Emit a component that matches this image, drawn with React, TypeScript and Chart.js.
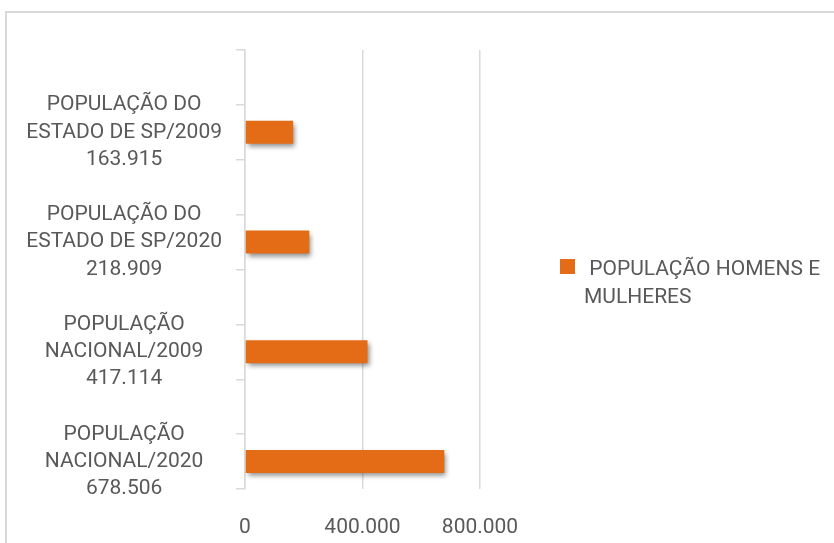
import React, { useEffect, useRef } from "react";
import { Chart, registerables } from "chart.js";

Chart.register(...registerables);

const categoryNames: string[][] = [
  ["POPULAÇÃO DO", "ESTADO DE SP/2009"],
  ["POPULAÇÃO DO", "ESTADO DE SP/2020"],
  ["POPULAÇÃO", "NACIONAL/2009"],
  ["POPULAÇÃO", "NACIONAL/2020"],
];
const populationValues: number[] = [163915, 218909, 417114, 678506];
const xTickValues: number[] = [0, 400000, 800000];
const seriesName = "POPULAÇÃO HOMENS E MULHERES";
const legendLines: string[] = [" POPULAÇÃO HOMENS E", "MULHERES"];

const ORANGE = "#E46C17";
const TEXT = "#595959";
const GRID = "#d9d9d9";
const FONT = "Roboto";

const fmt = (v: number) => v.toString().replace(/\B(?=(\d{3})+(?!\d))/g, ".");

export default function App() {
  const ref = useRef<HTMLCanvasElement | null>(null);

  useEffect(() => {
    if (!ref.current) return;
    const labels: (string | string[])[] = [];
    const data: (number | null)[] = [];
    categoryNames.forEach((n, i) => {
      labels.push("");
      data.push(null);
      labels.push([...n, fmt(populationValues[i])]);
      data.push(populationValues[i]);
    });

    const framePlugin = {
      id: "frame",
      beforeDraw(chart: any) {
        const ctx = chart.ctx;
        ctx.save();
        ctx.fillStyle = "#ffffff";
        ctx.fillRect(0, 0, chart.width, chart.height);
        ctx.strokeStyle = GRID;
        ctx.lineWidth = 2;
        ctx.strokeRect(6, 12, 2000, 2000);
        ctx.restore();
      },
    };

    const shadowPlugin = {
      id: "barShadow",
      beforeDatasetsDraw(chart: any) {
        const ctx = chart.ctx;
        ctx.save();
        ctx.shadowColor = "rgba(0,0,0,0.45)";
        ctx.shadowBlur = 5;
        ctx.shadowOffsetX = 2;
        ctx.shadowOffsetY = 3;
      },
      afterDatasetsDraw(chart: any) {
        chart.ctx.restore();
      },
    };

    const legendPlugin = {
      id: "customLegend",
      afterDraw(chart: any) {
        const ctx = chart.ctx;
        ctx.save();
        ctx.fillStyle = ORANGE;
        ctx.fillRect(560, 259, 15, 15);
        ctx.fillStyle = TEXT;
        ctx.font = `21px ${FONT}`;
        ctx.textBaseline = "alphabetic";
        ctx.textAlign = "left";
        legendLines.forEach((l, i) => {
          ctx.fillText(l, 584, 275 + i * 28);
        });
        ctx.restore();
      },
    };

    const chart = new Chart(ref.current, {
      type: "bar",
      data: {
        labels,
        datasets: [
          {
            label: seriesName,
            data,
            backgroundColor: ORANGE,
            borderWidth: 0,
            categoryPercentage: 1,
            barPercentage: 0.42,
          },
        ],
      },
      options: {
        indexAxis: "y",
        responsive: false,
        animation: false,
        layout: { padding: { top: 50, right: 354, left: 0, bottom: 0 } },
        plugins: {
          legend: { display: false },
          tooltip: { enabled: false },
        },
        scales: {
          x: {
            min: 0,
            max: 800000,
            afterBuildTicks(scale: any) {
              scale.ticks = xTickValues.map((v) => ({ value: v }));
            },
            afterFit(scale: any) {
              scale.height = 54;
              scale.paddingLeft = 0;
              scale.paddingRight = 0;
            },
            grid: {
              color: GRID,
              lineWidth: 1.5,
              drawTicks: false,
            },
            border: { display: false },
            ticks: {
              padding: 26,
              color: TEXT,
              font: { family: FONT, size: 21 },
              callback: (v: any) => fmt(Number(v)),
            },
          },
          y: {
            afterFit(scale: any) {
              scale.width = 245;
              scale.paddingTop = 0;
              scale.paddingBottom = 0;
            },
            grid: {
              color: GRID,
              lineWidth: 1.5,
              drawOnChartArea: false,
              drawTicks: true,
              tickLength: 9,
              offset: true,
            },
            border: { display: true, color: GRID, width: 1.5 },
            ticks: {
              crossAlign: "center",
              padding: 14,
              color: TEXT,
              autoSkip: false,
              font: { family: FONT, size: 21, lineHeight: 1.3 },
            },
          },
        },
      },
      plugins: [framePlugin, shadowPlugin, legendPlugin],
    } as any);

    return () => chart.destroy();
  }, []);

  return (
    <div style={{ position: "absolute", left: 0, top: 0, width: 834, height: 543 }}>
      <canvas ref={ref} width={834} height={543} style={{ display: "block" }} />
    </div>
  );
}
